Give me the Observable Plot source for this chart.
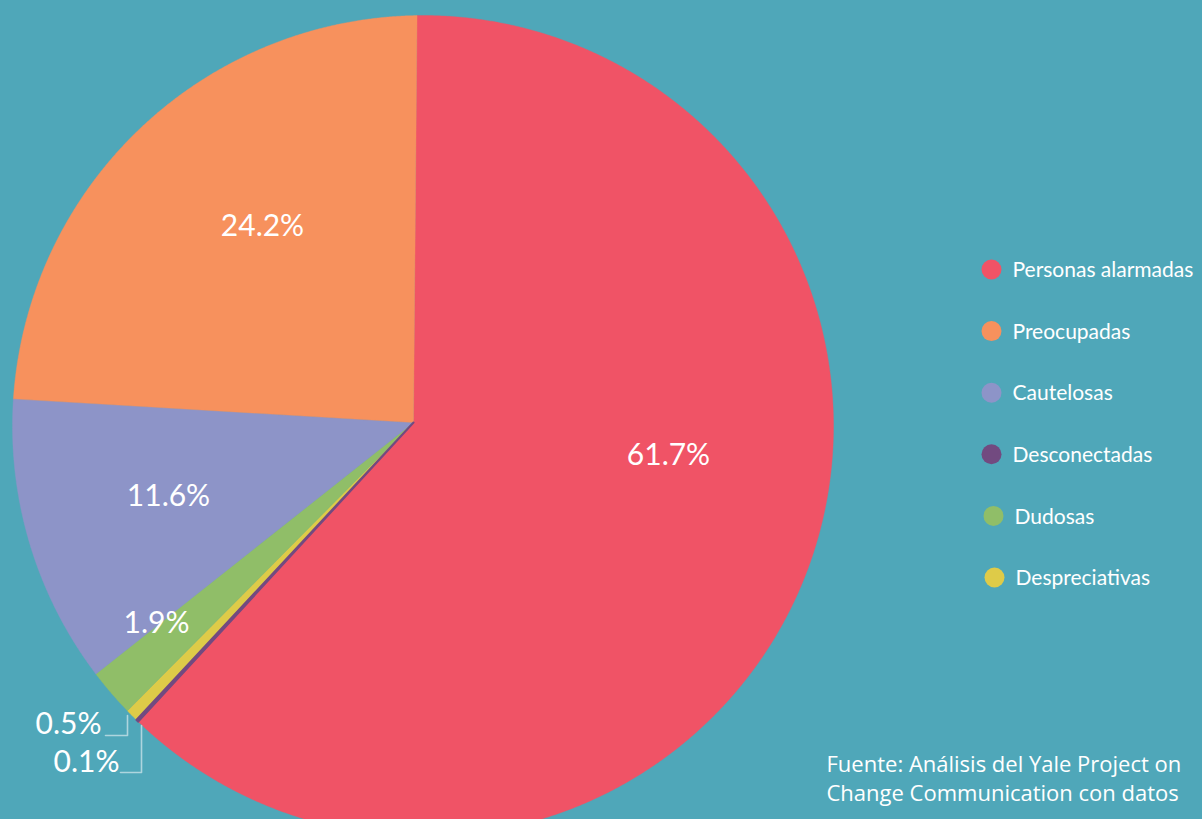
<!DOCTYPE html>
<html>
<head>
<meta charset="utf-8">
<script src="https://cdn.jsdelivr.net/npm/d3@7"></script>
<script src="https://cdn.jsdelivr.net/npm/@observablehq/plot@0.6"></script>
<style>
  html, body { margin: 0; padding: 0; background: #4FA7B9; overflow: hidden; }
</style>
</head>
<body>
<div id="chart"></div>
<script>
// ---- data ----
const categories = ["Personas alarmadas", "Preocupadas", "Cautelosas", "Desconectadas", "Dudosas", "Despreciativas"];
const values = [61.7, 24.2, 11.6, 0.1, 1.9, 0.5];
const colors = ["#F05366", "#F7915D", "#8D94C8", "#724A80", "#90BE68", "#DECB48"];
// clockwise order of slices starting at 12 o'clock
const pieOrder = ["Personas alarmadas", "Desconectadas", "Despreciativas", "Dudosas", "Cautelosas", "Preocupadas"];
const sourceLines = ["Fuente: Análisis del Yale Project on", "Change Communication con datos"];

// ---- layout ----
const W = 1202, H = 819;
const C = {x: 422.5, y: 425.5};   // circle centre
const V = {x: 413, y: 422};       // slice vertex
const R = 410.5;
const startOffset = 0.5;          // degrees
// label anchors (text centre) per category
const labelPos = {
  "Personas alarmadas": {x: 668, y: 455, anchor: "middle"},
  "Preocupadas": {x: 262, y: 226, anchor: "middle"},
  "Cautelosas": {x: 168, y: 496, anchor: "middle"},
  "Dudosas": {x: 156, y: 623, anchor: "middle"},
  "Despreciativas": {x: 101, y: 724, anchor: "end"},
  "Desconectadas": {x: 119, y: 762, anchor: "end"}
};

const valueOf = new Map(categories.map((c, i) => [c, values[i]]));
const total = d3.sum(values);

function rimPoint(deg) {
  const a = deg * Math.PI / 180;
  const d = {x: Math.sin(a), y: -Math.cos(a)};
  const w = {x: V.x - C.x, y: V.y - C.y};
  const wd = w.x * d.x + w.y * d.y;
  const t = -wd + Math.sqrt(wd * wd - (w.x * w.x + w.y * w.y) + R * R);
  return {x: V.x + t * d.x, y: V.y + t * d.y};
}

const slicePts = [];
let cum = 0;
for (const name of pieOrder) {
  const v = valueOf.get(name);
  const a0 = startOffset + cum / total * 360;
  const a1 = startOffset + (cum + v) / total * 360;
  cum += v;
  const pts = [{name, x: V.x, y: V.y}];
  const n = Math.max(2, Math.ceil((a1 - a0) / 0.2));
  for (let k = 0; k <= n; k++) {
    const p = rimPoint(a0 + (a1 - a0) * k / n);
    pts.push({name, x: p.x, y: p.y});
  }
  pts.push({name, x: V.x, y: V.y});
  slicePts.push(...pts);
}
const bigSlices = slicePts.filter(d => d.name !== "Desconectadas");
const tinySlice = slicePts.filter(d => d.name === "Desconectadas");

const labels = categories.map((c, i) => ({
  name: c,
  text: values[i].toFixed(1) + "%",
  ...labelPos[c]
}));

// leader lines for the two tiny slices
const leaders = [];
{
  const a = labelPos["Despreciativas"];
  leaders.push({g: 0, x: a.x + 4, y: a.y + 11}, {g: 0, x: a.x + 26, y: a.y + 11}, {g: 0, x: a.x + 26, y: a.y - 9});
  const b = labelPos["Desconectadas"];
  leaders.push({g: 1, x: b.x + 1, y: b.y + 10}, {g: 1, x: b.x + 22, y: b.y + 10}, {g: 1, x: b.x + 22, y: b.y - 37});
}

const legend = categories.map((c, i) => ({name: c, i}));
const legendY = i => 269 + i * 61.6;
const legendDx = [0, 0, 0, 0, 2, 3];

const plot = Plot.plot({
  width: W,
  height: H,
  margin: 0,
  style: {background: "#4FA7B9", fontFamily: "Lato, 'Open Sans', sans-serif", overflow: "hidden"},
  x: {domain: [0, W], range: [0, W], axis: null},
  y: {domain: [0, H], range: [0, H], axis: null},
  color: {domain: categories, range: colors},
  marks: [
    Plot.line(bigSlices, {x: "x", y: "y", z: "name", fill: "name", stroke: "name", strokeWidth: 0.4, curve: "linear"}),
    Plot.line(tinySlice, {x: "x", y: "y", z: "name", fill: "name", stroke: "name", strokeWidth: 2, curve: "linear"}),
    Plot.line(leaders, {x: "x", y: "y", z: "g", stroke: "#AED5DE", strokeWidth: 1.6}),
    Plot.text(labels.filter(d => d.anchor === "middle"), {x: "x", y: "y", text: "text", fill: "white", fontSize: 30, textAnchor: "middle", lineAnchor: "middle"}),
    Plot.text(labels.filter(d => d.anchor === "end"), {x: "x", y: "y", text: "text", fill: "white", fontSize: 30, textAnchor: "end", lineAnchor: "middle"}),
    Plot.dot(legend, {x: d => 991 + legendDx[d.i], y: d => legendY(d.i), r: 10, fill: "name", stroke: null}),
    Plot.text(legend, {x: d => 1012 + legendDx[d.i], y: d => legendY(d.i) + 1, text: "name", fill: "white", fontSize: 21, textAnchor: "start", lineAnchor: "middle"}),
    Plot.text(sourceLines, {x: 826, y: (d, i) => 764 + i * 29, text: d => d, fill: "white", fontSize: 22, fontFamily: "'Open Sans', sans-serif", textAnchor: "start", lineAnchor: "middle"})
  ]
});
document.getElementById("chart").appendChild(plot);
</script>
</body>
</html>
